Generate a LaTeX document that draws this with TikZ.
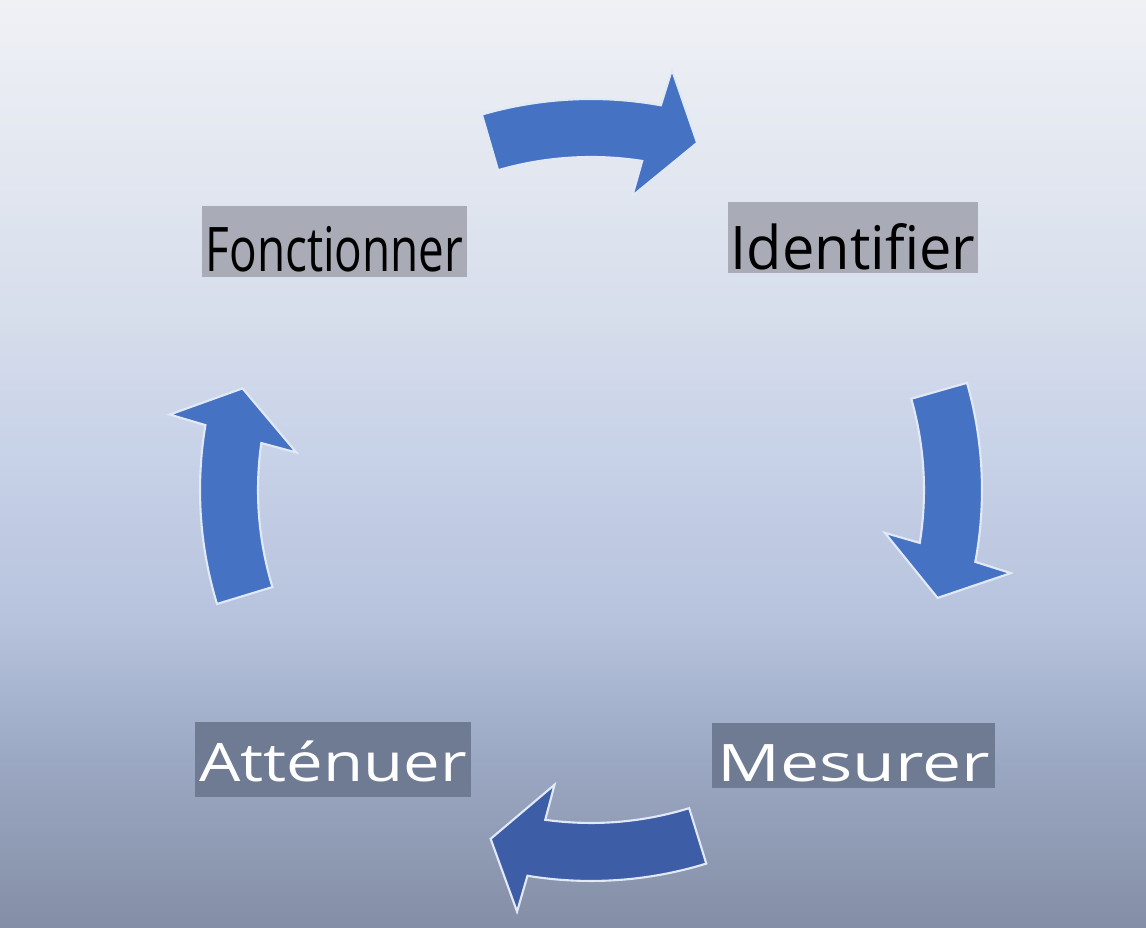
\documentclass[tikz,border=0pt]{standalone}
\usepackage{fontspec}
\setmainfont{Open Sans}
\usepackage{tikz}
\definecolor{bgtop}{HTML}{EFF1F5}
\definecolor{bgup}{HTML}{D8DFEC}
\definecolor{bgcen}{HTML}{C8D2E8}
\definecolor{bgmid}{HTML}{B7C3DD}
\definecolor{bglow}{HTML}{9DAAC5}
\definecolor{bgbot}{HTML}{848EA6}
\definecolor{arrowblue}{HTML}{4672C3}
\definecolor{arrowdark}{HTML}{3D5DA6}
\definecolor{arrowedge}{HTML}{E2E9F6}
\definecolor{boxlight}{HTML}{A9ACB6}
\definecolor{boxdark}{HTML}{6F7B92}
\pgfdeclareverticalshading{cyclebg}{100bp}{color(0bp)=(bgbot); color(25bp)=(bgbot);
  color(34.6bp)=(bglow); color(41.6bp)=(bgmid); color(50.75bp)=(bgcen);
  color(58.8bp)=(bgup); color(75bp)=(bgtop); color(100bp)=(bgtop)}

\begin{document}
\begin{tikzpicture}[scale=1,
    cyclearrow/.style={fill=arrowblue, draw=arrowedge, line width=0.6pt, line join=miter},
    steplabel/.style={anchor=base, inner sep=0pt}]
      \useasboundingbox (-5.91,-4.38) rectangle (5.55,4.90);
      \shade[shading=cyclebg] (-5.91,-4.38) rectangle (5.55,4.90);
      % top arrow
      \draw[cyclearrow] (106.2:3.91) arc[start angle=106.2, end angle=79.7, radius=3.91]
      -- (79.1:4.28) -- (73:3.63) -- (82:2.97) -- (81.15:3.33)
      arc[start angle=81.15, end angle=106.2, radius=3.33] -- cycle;
      % right arrow
      \draw[cyclearrow] (15.9:3.91) arc[start angle=15.9, end angle=-10.6, radius=3.91]
      -- (-11.2:4.28) -- (-17.3:3.63) -- (-8.3:2.97) -- (-9.15:3.33)
      arc[start angle=-9.15, end angle=15.9, radius=3.33] -- cycle;
      % bottom arrow
      \draw[cyclearrow, fill=arrowdark] (-72.85:3.91) arc[start angle=-72.85, end angle=-99.35, radius=3.91]
      -- (-99.95:4.28) -- (-106.05:3.63) -- (-97.05:2.97) -- (-97.9:3.33)
      arc[start angle=-97.9, end angle=-72.85, radius=3.33] -- cycle;
      % left arrow
      \draw[cyclearrow] (196.95:3.91) arc[start angle=196.95, end angle=170.45, radius=3.91]
      -- (169.85:4.28) -- (163.75:3.63) -- (172.75:2.97) -- (171.9:3.33)
      arc[start angle=171.9, end angle=196.95, radius=3.33] -- cycle;
      % labels
      \node (fonct) at (-2.565,2.18) [steplabel, fill=boxlight, minimum width=2.65cm,
        text height=0.66cm, text depth=0.05cm]
        {\scalebox{0.745}[1]{\fontsize{17.5}{17.5}\selectfont Fonctionner}};
      \node (ident) at (2.62,2.20) [steplabel, fill=boxlight, minimum width=2.50cm,
        text height=0.68cm, text depth=0.03cm]
        {\scalebox{0.96}[1]{\fontsize{17.1}{17.1}\selectfont Identifier}};
      \node (mesur) at (2.625,-2.92) [steplabel, fill=boxdark, text=white, minimum width=2.83cm,
        text height=0.59cm, text depth=0.06cm]
        {\scalebox{1.35}[1]{\fontsize{14.7}{14.7}\selectfont Mesurer}};
      \node (atten) at (-2.58,-2.92) [steplabel, fill=boxdark, text=white, minimum width=2.76cm,
        text height=0.60cm, text depth=0.15cm]
        {\scalebox{1.23}[1]{\fontsize{15.1}{15.1}\selectfont Atténuer}};
    \end{tikzpicture}
\end{document}
